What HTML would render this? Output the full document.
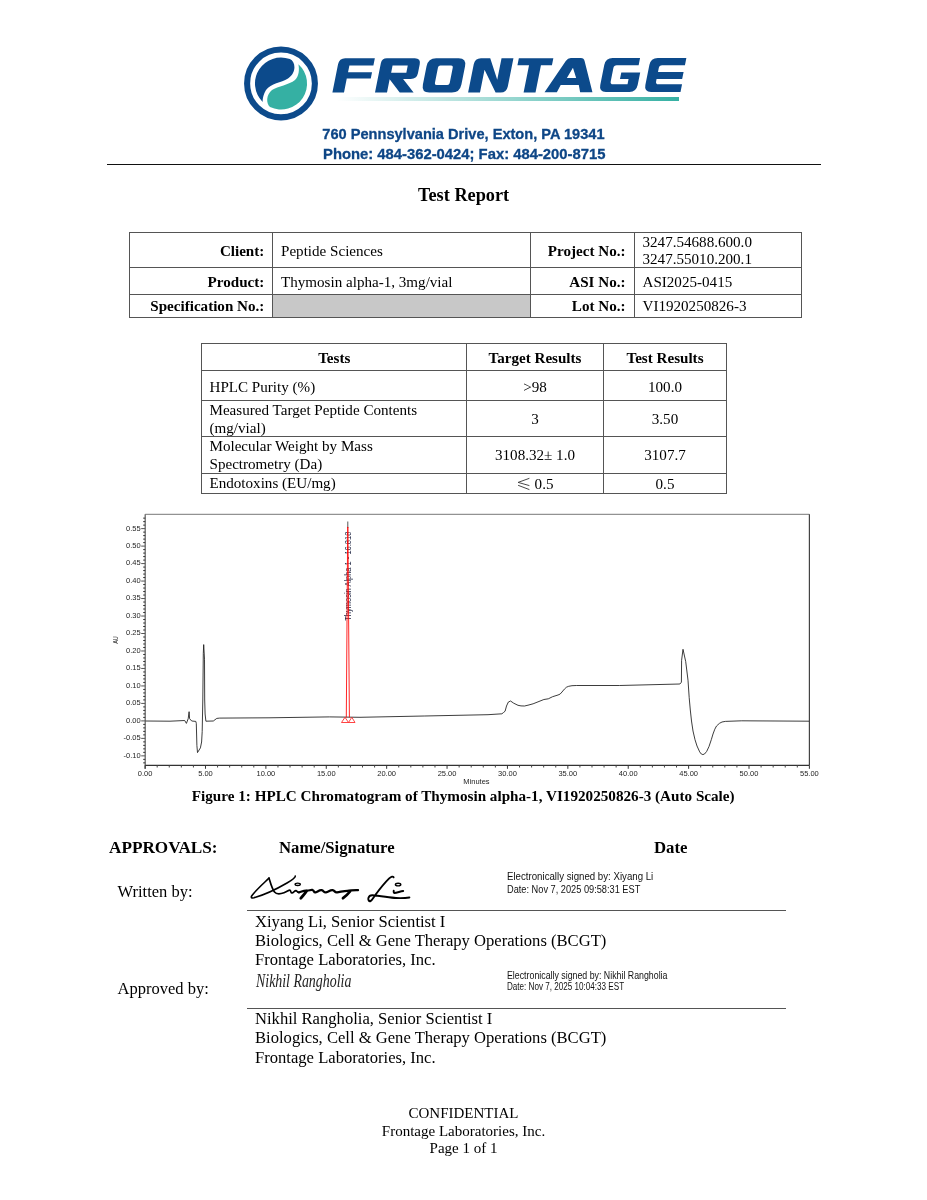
<!DOCTYPE html>
<html><head><meta charset="utf-8"><style>
html,body{margin:0;padding:0;background:#fff;}
#page{position:relative;width:927px;height:1200px;overflow:hidden;background:#fff;will-change:transform;}
.t{position:absolute;white-space:nowrap;}
.abs{position:absolute;}
svg text{font-family:"Liberation Sans", sans-serif;}
</style></head><body><div id="page">

<svg class="abs" style="left:0;top:0" width="927" height="170" viewBox="0 0 927 170">
  <defs>
    <linearGradient id="ul" x1="0" x2="1" y1="0" y2="0">
      <stop offset="0" stop-color="#35b0a3" stop-opacity="0"/>
      <stop offset="0.35" stop-color="#35b0a3" stop-opacity="0.35"/>
      <stop offset="1" stop-color="#35b0a3" stop-opacity="1"/>
    </linearGradient>
  </defs>
  <circle cx="281" cy="83.45" r="33.9" fill="none" stroke="#0c4a8b" stroke-width="6.1"/>
  <path fill="#0c4a8b" d="M262.6,101.9 A26,26 0 0 1 289.9,59.1 C296,62 296.5,73 288,78.5 C281,83 271,83 266,90 C263.5,94 262.5,99 262.6,101.9 Z"/>
  <path fill="#35b0a3" d="M298.4,64.2 A26,26 0 0 1 270,107.1 C266,103 266,95 272,90 C278,86 289,85 295,80 C299,76 299.5,70 298.4,64.2 Z"/>
  <rect x="336" y="97" width="343" height="4" fill="url(#ul)"/>
  <g fill="#0c4a8b"><path transform="matrix(1 0 -0.2 1 339.24 58.2)" d="M6,0 H35.6 V7.2 H11.6 V14 H35.6 V20.4 H11.6 V34.2 H0 V6 Q0,0 6,0 Z"/><path transform="matrix(1 0 -0.2 1 381.84 58.2)" d="M5,0 H33 Q39.1,0 39.1,6 V15 Q39.1,20.7 33,20.7 H25.4 L38.6,34.2 H24.7 L12,21 V34.2 H0 V5 Q0,0 5,0 Z M12.2,7.4 V14.5 H27.4 V7.4 Z"/><path transform="matrix(1 0 -0.2 1 428.14 58.2)" d="M8,0 H30.5 Q38.5,0 38.5,8 V26.2 Q38.5,34.2 30.5,34.2 H8 Q0,34.2 0,26.2 V8 Q0,0 8,0 Z M13.7,7.3 Q11.7,7.3 11.7,9.3 V24.7 Q11.7,26.7 13.7,26.7 H24.5 Q26.5,26.7 26.5,24.7 V9.3 Q26.5,7.3 24.5,7.3 Z"/><path transform="matrix(1 0 -0.2 1 474.94 58.2)" d="M0,34.2 V6 Q0,0 6,0 H15.3 L26.6,21.5 V0 H38.5 V28.2 Q38.5,34.2 32.5,34.2 H27.5 L11.9,11.5 V34.2 Z"/><path transform="matrix(1 0 -0.2 1 518.84 58.2)" d="M0,0 H34.5 V7 H23.5 V34.2 H11.6 V7 H0 Z"/><path transform="matrix(1 0 -0.2 1 551.38 58.0)" d="M0,34.2 L15,3 Q16.4,0 19.5,0 H29.5 Q32.6,0 33.8,3 L47.9,34.2 H35.6 L32.8,26.9 H14.7 L12.3,34.2 Z M19.5,20.1 H28.8 L23.5,9.7 Z"/><path transform="matrix(1 0 -0.2 1 605.66 58.1)" d="M7,0 H34.4 V7.1 H12.5 Q9.7,7.1 9.7,9.9 V23.3 Q9.7,26.1 12.5,26.1 H27.1 V21 H18.5 V14.3 H37.4 V27 Q37.4,33.8 30.6,33.8 H7 Q0,33.8 0,27 V7 Q0,0 7,0 Z"/><path transform="matrix(1 0 -0.2 1 650.76 58.1)" d="M7,0 H35.6 V7.1 H12.8 Q10,7.1 10,9.9 V13.8 H35.6 V21 H10 V23.3 Q10,26.1 12.8,26.1 H36.5 V33.8 H7 Q0,33.8 0,27 V7 Q0,0 7,0 Z"/></g>
</svg>
<div class="t" style="left:322.30px;top:127px;font-size:14.6px;line-height:14.6px;font-family:'Liberation Sans', sans-serif;font-weight:bold;color:#0e4686;-webkit-text-stroke:0.3px #0e4686;">760 Pennsylvania Drive, Exton, PA 19341</div>
<div class="t" style="left:323.00px;top:147px;font-size:14.82px;line-height:14.82px;font-family:'Liberation Sans', sans-serif;font-weight:bold;color:#0e4686;-webkit-text-stroke:0.3px #0e4686;">Phone: 484-362-0424; Fax: 484-200-8715</div>
<div class="abs" style="left:107px;top:164px;width:714px;height:1px;background:#111"></div>
<div class="t" style="left:-36.40px;width:1000px;text-align:center;top:186px;font-size:18.3px;line-height:18.3px;font-family:'Liberation Serif', serif;font-weight:bold;color:#000;">Test Report</div>
<div class="abs" style="left:273px;top:295px;width:257px;height:22px;background:#c8c8c8"></div>
<div class="abs" style="left:129px;top:232px;width:673px;height:1px;background:#555"></div>
<div class="abs" style="left:129px;top:267px;width:673px;height:1px;background:#555"></div>
<div class="abs" style="left:129px;top:294px;width:673px;height:1px;background:#555"></div>
<div class="abs" style="left:129px;top:317px;width:673px;height:1px;background:#555"></div>
<div class="abs" style="left:129px;top:232px;width:1px;height:86px;background:#555"></div>
<div class="abs" style="left:272px;top:232px;width:1px;height:86px;background:#555"></div>
<div class="abs" style="left:530px;top:232px;width:1px;height:86px;background:#555"></div>
<div class="abs" style="left:634px;top:232px;width:1px;height:86px;background:#555"></div>
<div class="abs" style="left:801px;top:232px;width:1px;height:86px;background:#555"></div>
<div class="t" style="left:-735.70px;width:1000px;text-align:right;top:244px;font-size:15.1px;line-height:15.1px;font-family:'Liberation Serif', serif;font-weight:bold;color:#000;">Client:</div>
<div class="t" style="left:-735.70px;width:1000px;text-align:right;top:275px;font-size:15.1px;line-height:15.1px;font-family:'Liberation Serif', serif;font-weight:bold;color:#000;">Product:</div>
<div class="t" style="left:-735.70px;width:1000px;text-align:right;top:299px;font-size:15.1px;line-height:15.1px;font-family:'Liberation Serif', serif;font-weight:bold;color:#000;">Specification No.:</div>
<div class="t" style="left:281.00px;top:244px;font-size:15.1px;line-height:15.1px;font-family:'Liberation Serif', serif;font-weight:normal;color:#000;">Peptide Sciences</div>
<div class="t" style="left:281.00px;top:275px;font-size:15.1px;line-height:15.1px;font-family:'Liberation Serif', serif;font-weight:normal;color:#000;">Thymosin alpha-1, 3mg/vial</div>
<div class="t" style="left:-374.50px;width:1000px;text-align:right;top:244px;font-size:15.1px;line-height:15.1px;font-family:'Liberation Serif', serif;font-weight:bold;color:#000;">Project No.:</div>
<div class="t" style="left:-374.50px;width:1000px;text-align:right;top:275px;font-size:15.1px;line-height:15.1px;font-family:'Liberation Serif', serif;font-weight:bold;color:#000;">ASI No.:</div>
<div class="t" style="left:-374.50px;width:1000px;text-align:right;top:299px;font-size:15.1px;line-height:15.1px;font-family:'Liberation Serif', serif;font-weight:bold;color:#000;">Lot No.:</div>
<div class="t" style="left:642.50px;top:235px;font-size:15.1px;line-height:15.1px;font-family:'Liberation Serif', serif;font-weight:normal;color:#000;">3247.54688.600.0</div>
<div class="t" style="left:642.50px;top:252px;font-size:15.1px;line-height:15.1px;font-family:'Liberation Serif', serif;font-weight:normal;color:#000;">3247.55010.200.1</div>
<div class="t" style="left:642.50px;top:275px;font-size:15.1px;line-height:15.1px;font-family:'Liberation Serif', serif;font-weight:normal;color:#000;">ASI2025-0415</div>
<div class="t" style="left:642.50px;top:299px;font-size:15.1px;line-height:15.1px;font-family:'Liberation Serif', serif;font-weight:normal;color:#000;">VI1920250826-3</div>
<div class="abs" style="left:201px;top:343px;width:526px;height:1px;background:#555"></div>
<div class="abs" style="left:201px;top:370px;width:526px;height:1px;background:#555"></div>
<div class="abs" style="left:201px;top:400px;width:526px;height:1px;background:#555"></div>
<div class="abs" style="left:201px;top:436px;width:526px;height:1px;background:#555"></div>
<div class="abs" style="left:201px;top:473px;width:526px;height:1px;background:#555"></div>
<div class="abs" style="left:201px;top:493px;width:526px;height:1px;background:#555"></div>
<div class="abs" style="left:201px;top:343px;width:1px;height:151px;background:#555"></div>
<div class="abs" style="left:466px;top:343px;width:1px;height:151px;background:#555"></div>
<div class="abs" style="left:603px;top:343px;width:1px;height:151px;background:#555"></div>
<div class="abs" style="left:726px;top:343px;width:1px;height:151px;background:#555"></div>
<div class="t" style="left:-165.80px;width:1000px;text-align:center;top:351px;font-size:15.1px;line-height:15.1px;font-family:'Liberation Serif', serif;font-weight:bold;color:#000;">Tests</div>
<div class="t" style="left:35.00px;width:1000px;text-align:center;top:351px;font-size:15.1px;line-height:15.1px;font-family:'Liberation Serif', serif;font-weight:bold;color:#000;">Target Results</div>
<div class="t" style="left:165.00px;width:1000px;text-align:center;top:351px;font-size:15.1px;line-height:15.1px;font-family:'Liberation Serif', serif;font-weight:bold;color:#000;">Test Results</div>
<div class="t" style="left:209.50px;top:380px;font-size:15.1px;line-height:15.1px;font-family:'Liberation Serif', serif;font-weight:normal;color:#000;">HPLC Purity (%)</div>
<div class="t" style="left:35.00px;width:1000px;text-align:center;top:380px;font-size:15.1px;line-height:15.1px;font-family:'Liberation Serif', serif;font-weight:normal;color:#000;">&gt;98</div>
<div class="t" style="left:165.00px;width:1000px;text-align:center;top:380px;font-size:15.1px;line-height:15.1px;font-family:'Liberation Serif', serif;font-weight:normal;color:#000;">100.0</div>
<div class="t" style="left:209.50px;top:403px;font-size:15.1px;line-height:15.1px;font-family:'Liberation Serif', serif;font-weight:normal;color:#000;">Measured Target Peptide Contents</div>
<div class="t" style="left:209.50px;top:421px;font-size:15.1px;line-height:15.1px;font-family:'Liberation Serif', serif;font-weight:normal;color:#000;">(mg/vial)</div>
<div class="t" style="left:35.00px;width:1000px;text-align:center;top:412px;font-size:15.1px;line-height:15.1px;font-family:'Liberation Serif', serif;font-weight:normal;color:#000;">3</div>
<div class="t" style="left:165.00px;width:1000px;text-align:center;top:412px;font-size:15.1px;line-height:15.1px;font-family:'Liberation Serif', serif;font-weight:normal;color:#000;">3.50</div>
<div class="t" style="left:209.50px;top:439px;font-size:15.1px;line-height:15.1px;font-family:'Liberation Serif', serif;font-weight:normal;color:#000;">Molecular Weight by Mass</div>
<div class="t" style="left:209.50px;top:457px;font-size:15.1px;line-height:15.1px;font-family:'Liberation Serif', serif;font-weight:normal;color:#000;">Spectrometry (Da)</div>
<div class="t" style="left:35.00px;width:1000px;text-align:center;top:448px;font-size:15.1px;line-height:15.1px;font-family:'Liberation Serif', serif;font-weight:normal;color:#000;">3108.32± 1.0</div>
<div class="t" style="left:165.00px;width:1000px;text-align:center;top:448px;font-size:15.1px;line-height:15.1px;font-family:'Liberation Serif', serif;font-weight:normal;color:#000;">3107.7</div>
<div class="t" style="left:209.50px;top:476px;font-size:15.1px;line-height:15.1px;font-family:'Liberation Serif', serif;font-weight:normal;color:#000;">Endotoxins (EU/mg)</div>
<div class="t" style="left:534.60px;top:477px;font-size:15.1px;line-height:15.1px;font-family:'Liberation Serif', serif;font-weight:normal;color:#000;">0.5</div>
<svg class="abs" style="left:0;top:0" width="927" height="500" viewBox="0 0 927 500"><path d="M529.4,478.3 L518.1,482.4 L529.4,485.6 M518.1,485.3 L529.4,489.6" fill="none" stroke="#333" stroke-width="0.9"/></svg>
<div class="t" style="left:165.00px;width:1000px;text-align:center;top:477px;font-size:15.1px;line-height:15.1px;font-family:'Liberation Serif', serif;font-weight:normal;color:#000;">0.5</div>
<svg class="abs" style="left:0;top:0" width="927" height="800" viewBox="0 0 927 800">
<line x1="145.2" y1="514.3" x2="809.4" y2="514.3" stroke="#777" stroke-width="1"/>
<line x1="809.4" y1="514.3" x2="809.4" y2="765.3" stroke="#444" stroke-width="1.2"/>
<line x1="145.2" y1="514.3" x2="145.2" y2="768.8" stroke="#666" stroke-width="1.3"/>
<line x1="145.2" y1="765.3" x2="809.4" y2="765.3" stroke="#333" stroke-width="1.3"/>
<line x1="143.2" y1="762.85" x2="145.2" y2="762.85" stroke="#333" stroke-width="1"/>
<line x1="143.2" y1="759.36" x2="145.2" y2="759.36" stroke="#333" stroke-width="1"/>
<line x1="141.2" y1="755.86" x2="145.2" y2="755.86" stroke="#555" stroke-width="1"/>
<text x="140.7" y="757.76" text-anchor="end" font-size="7.5" fill="#1e1e1e">-0.10</text>
<line x1="143.2" y1="752.36" x2="145.2" y2="752.36" stroke="#333" stroke-width="1"/>
<line x1="143.2" y1="748.87" x2="145.2" y2="748.87" stroke="#333" stroke-width="1"/>
<line x1="143.2" y1="745.37" x2="145.2" y2="745.37" stroke="#333" stroke-width="1"/>
<line x1="143.2" y1="741.88" x2="145.2" y2="741.88" stroke="#333" stroke-width="1"/>
<line x1="141.2" y1="738.38" x2="145.2" y2="738.38" stroke="#555" stroke-width="1"/>
<text x="140.7" y="740.28" text-anchor="end" font-size="7.5" fill="#1e1e1e">-0.05</text>
<line x1="143.2" y1="734.88" x2="145.2" y2="734.88" stroke="#333" stroke-width="1"/>
<line x1="143.2" y1="731.39" x2="145.2" y2="731.39" stroke="#333" stroke-width="1"/>
<line x1="143.2" y1="727.89" x2="145.2" y2="727.89" stroke="#333" stroke-width="1"/>
<line x1="143.2" y1="724.40" x2="145.2" y2="724.40" stroke="#333" stroke-width="1"/>
<line x1="141.2" y1="720.90" x2="145.2" y2="720.90" stroke="#555" stroke-width="1"/>
<text x="140.7" y="722.80" text-anchor="end" font-size="7.5" fill="#1e1e1e">0.00</text>
<line x1="143.2" y1="717.40" x2="145.2" y2="717.40" stroke="#333" stroke-width="1"/>
<line x1="143.2" y1="713.91" x2="145.2" y2="713.91" stroke="#333" stroke-width="1"/>
<line x1="143.2" y1="710.41" x2="145.2" y2="710.41" stroke="#333" stroke-width="1"/>
<line x1="143.2" y1="706.92" x2="145.2" y2="706.92" stroke="#333" stroke-width="1"/>
<line x1="141.2" y1="703.42" x2="145.2" y2="703.42" stroke="#555" stroke-width="1"/>
<text x="140.7" y="705.32" text-anchor="end" font-size="7.5" fill="#1e1e1e">0.05</text>
<line x1="143.2" y1="699.92" x2="145.2" y2="699.92" stroke="#333" stroke-width="1"/>
<line x1="143.2" y1="696.43" x2="145.2" y2="696.43" stroke="#333" stroke-width="1"/>
<line x1="143.2" y1="692.93" x2="145.2" y2="692.93" stroke="#333" stroke-width="1"/>
<line x1="143.2" y1="689.44" x2="145.2" y2="689.44" stroke="#333" stroke-width="1"/>
<line x1="141.2" y1="685.94" x2="145.2" y2="685.94" stroke="#555" stroke-width="1"/>
<text x="140.7" y="687.84" text-anchor="end" font-size="7.5" fill="#1e1e1e">0.10</text>
<line x1="143.2" y1="682.44" x2="145.2" y2="682.44" stroke="#333" stroke-width="1"/>
<line x1="143.2" y1="678.95" x2="145.2" y2="678.95" stroke="#333" stroke-width="1"/>
<line x1="143.2" y1="675.45" x2="145.2" y2="675.45" stroke="#333" stroke-width="1"/>
<line x1="143.2" y1="671.96" x2="145.2" y2="671.96" stroke="#333" stroke-width="1"/>
<line x1="141.2" y1="668.46" x2="145.2" y2="668.46" stroke="#555" stroke-width="1"/>
<text x="140.7" y="670.36" text-anchor="end" font-size="7.5" fill="#1e1e1e">0.15</text>
<line x1="143.2" y1="664.96" x2="145.2" y2="664.96" stroke="#333" stroke-width="1"/>
<line x1="143.2" y1="661.47" x2="145.2" y2="661.47" stroke="#333" stroke-width="1"/>
<line x1="143.2" y1="657.97" x2="145.2" y2="657.97" stroke="#333" stroke-width="1"/>
<line x1="143.2" y1="654.48" x2="145.2" y2="654.48" stroke="#333" stroke-width="1"/>
<line x1="141.2" y1="650.98" x2="145.2" y2="650.98" stroke="#555" stroke-width="1"/>
<text x="140.7" y="652.88" text-anchor="end" font-size="7.5" fill="#1e1e1e">0.20</text>
<line x1="143.2" y1="647.48" x2="145.2" y2="647.48" stroke="#333" stroke-width="1"/>
<line x1="143.2" y1="643.99" x2="145.2" y2="643.99" stroke="#333" stroke-width="1"/>
<line x1="143.2" y1="640.49" x2="145.2" y2="640.49" stroke="#333" stroke-width="1"/>
<line x1="143.2" y1="637.00" x2="145.2" y2="637.00" stroke="#333" stroke-width="1"/>
<line x1="141.2" y1="633.50" x2="145.2" y2="633.50" stroke="#555" stroke-width="1"/>
<text x="140.7" y="635.40" text-anchor="end" font-size="7.5" fill="#1e1e1e">0.25</text>
<line x1="143.2" y1="630.00" x2="145.2" y2="630.00" stroke="#333" stroke-width="1"/>
<line x1="143.2" y1="626.51" x2="145.2" y2="626.51" stroke="#333" stroke-width="1"/>
<line x1="143.2" y1="623.01" x2="145.2" y2="623.01" stroke="#333" stroke-width="1"/>
<line x1="143.2" y1="619.52" x2="145.2" y2="619.52" stroke="#333" stroke-width="1"/>
<line x1="141.2" y1="616.02" x2="145.2" y2="616.02" stroke="#555" stroke-width="1"/>
<text x="140.7" y="617.92" text-anchor="end" font-size="7.5" fill="#1e1e1e">0.30</text>
<line x1="143.2" y1="612.52" x2="145.2" y2="612.52" stroke="#333" stroke-width="1"/>
<line x1="143.2" y1="609.03" x2="145.2" y2="609.03" stroke="#333" stroke-width="1"/>
<line x1="143.2" y1="605.53" x2="145.2" y2="605.53" stroke="#333" stroke-width="1"/>
<line x1="143.2" y1="602.04" x2="145.2" y2="602.04" stroke="#333" stroke-width="1"/>
<line x1="141.2" y1="598.54" x2="145.2" y2="598.54" stroke="#555" stroke-width="1"/>
<text x="140.7" y="600.44" text-anchor="end" font-size="7.5" fill="#1e1e1e">0.35</text>
<line x1="143.2" y1="595.04" x2="145.2" y2="595.04" stroke="#333" stroke-width="1"/>
<line x1="143.2" y1="591.55" x2="145.2" y2="591.55" stroke="#333" stroke-width="1"/>
<line x1="143.2" y1="588.05" x2="145.2" y2="588.05" stroke="#333" stroke-width="1"/>
<line x1="143.2" y1="584.56" x2="145.2" y2="584.56" stroke="#333" stroke-width="1"/>
<line x1="141.2" y1="581.06" x2="145.2" y2="581.06" stroke="#555" stroke-width="1"/>
<text x="140.7" y="582.96" text-anchor="end" font-size="7.5" fill="#1e1e1e">0.40</text>
<line x1="143.2" y1="577.56" x2="145.2" y2="577.56" stroke="#333" stroke-width="1"/>
<line x1="143.2" y1="574.07" x2="145.2" y2="574.07" stroke="#333" stroke-width="1"/>
<line x1="143.2" y1="570.57" x2="145.2" y2="570.57" stroke="#333" stroke-width="1"/>
<line x1="143.2" y1="567.08" x2="145.2" y2="567.08" stroke="#333" stroke-width="1"/>
<line x1="141.2" y1="563.58" x2="145.2" y2="563.58" stroke="#555" stroke-width="1"/>
<text x="140.7" y="565.48" text-anchor="end" font-size="7.5" fill="#1e1e1e">0.45</text>
<line x1="143.2" y1="560.08" x2="145.2" y2="560.08" stroke="#333" stroke-width="1"/>
<line x1="143.2" y1="556.59" x2="145.2" y2="556.59" stroke="#333" stroke-width="1"/>
<line x1="143.2" y1="553.09" x2="145.2" y2="553.09" stroke="#333" stroke-width="1"/>
<line x1="143.2" y1="549.60" x2="145.2" y2="549.60" stroke="#333" stroke-width="1"/>
<line x1="141.2" y1="546.10" x2="145.2" y2="546.10" stroke="#555" stroke-width="1"/>
<text x="140.7" y="548.00" text-anchor="end" font-size="7.5" fill="#1e1e1e">0.50</text>
<line x1="143.2" y1="542.60" x2="145.2" y2="542.60" stroke="#333" stroke-width="1"/>
<line x1="143.2" y1="539.11" x2="145.2" y2="539.11" stroke="#333" stroke-width="1"/>
<line x1="143.2" y1="535.61" x2="145.2" y2="535.61" stroke="#333" stroke-width="1"/>
<line x1="143.2" y1="532.12" x2="145.2" y2="532.12" stroke="#333" stroke-width="1"/>
<line x1="141.2" y1="528.62" x2="145.2" y2="528.62" stroke="#555" stroke-width="1"/>
<text x="140.7" y="530.52" text-anchor="end" font-size="7.5" fill="#1e1e1e">0.55</text>
<line x1="143.2" y1="525.12" x2="145.2" y2="525.12" stroke="#333" stroke-width="1"/>
<line x1="143.2" y1="521.63" x2="145.2" y2="521.63" stroke="#333" stroke-width="1"/>
<line x1="143.2" y1="518.13" x2="145.2" y2="518.13" stroke="#333" stroke-width="1"/>
<line x1="145.10" y1="765.3" x2="145.10" y2="768.8" stroke="#333" stroke-width="1"/>
<text x="145.10" y="775.8" text-anchor="middle" font-size="7.5" fill="#1e1e1e">0.00</text>
<line x1="157.18" y1="765.3" x2="157.18" y2="767.5" stroke="#444" stroke-width="1"/>
<line x1="169.26" y1="765.3" x2="169.26" y2="767.5" stroke="#444" stroke-width="1"/>
<line x1="181.33" y1="765.3" x2="181.33" y2="767.5" stroke="#444" stroke-width="1"/>
<line x1="193.41" y1="765.3" x2="193.41" y2="767.5" stroke="#444" stroke-width="1"/>
<line x1="205.49" y1="765.3" x2="205.49" y2="768.8" stroke="#333" stroke-width="1"/>
<text x="205.49" y="775.8" text-anchor="middle" font-size="7.5" fill="#1e1e1e">5.00</text>
<line x1="217.57" y1="765.3" x2="217.57" y2="767.5" stroke="#444" stroke-width="1"/>
<line x1="229.65" y1="765.3" x2="229.65" y2="767.5" stroke="#444" stroke-width="1"/>
<line x1="241.72" y1="765.3" x2="241.72" y2="767.5" stroke="#444" stroke-width="1"/>
<line x1="253.80" y1="765.3" x2="253.80" y2="767.5" stroke="#444" stroke-width="1"/>
<line x1="265.88" y1="765.3" x2="265.88" y2="768.8" stroke="#333" stroke-width="1"/>
<text x="265.88" y="775.8" text-anchor="middle" font-size="7.5" fill="#1e1e1e">10.00</text>
<line x1="277.96" y1="765.3" x2="277.96" y2="767.5" stroke="#444" stroke-width="1"/>
<line x1="290.04" y1="765.3" x2="290.04" y2="767.5" stroke="#444" stroke-width="1"/>
<line x1="302.11" y1="765.3" x2="302.11" y2="767.5" stroke="#444" stroke-width="1"/>
<line x1="314.19" y1="765.3" x2="314.19" y2="767.5" stroke="#444" stroke-width="1"/>
<line x1="326.27" y1="765.3" x2="326.27" y2="768.8" stroke="#333" stroke-width="1"/>
<text x="326.27" y="775.8" text-anchor="middle" font-size="7.5" fill="#1e1e1e">15.00</text>
<line x1="338.35" y1="765.3" x2="338.35" y2="767.5" stroke="#444" stroke-width="1"/>
<line x1="350.43" y1="765.3" x2="350.43" y2="767.5" stroke="#444" stroke-width="1"/>
<line x1="362.50" y1="765.3" x2="362.50" y2="767.5" stroke="#444" stroke-width="1"/>
<line x1="374.58" y1="765.3" x2="374.58" y2="767.5" stroke="#444" stroke-width="1"/>
<line x1="386.66" y1="765.3" x2="386.66" y2="768.8" stroke="#333" stroke-width="1"/>
<text x="386.66" y="775.8" text-anchor="middle" font-size="7.5" fill="#1e1e1e">20.00</text>
<line x1="398.74" y1="765.3" x2="398.74" y2="767.5" stroke="#444" stroke-width="1"/>
<line x1="410.82" y1="765.3" x2="410.82" y2="767.5" stroke="#444" stroke-width="1"/>
<line x1="422.89" y1="765.3" x2="422.89" y2="767.5" stroke="#444" stroke-width="1"/>
<line x1="434.97" y1="765.3" x2="434.97" y2="767.5" stroke="#444" stroke-width="1"/>
<line x1="447.05" y1="765.3" x2="447.05" y2="768.8" stroke="#333" stroke-width="1"/>
<text x="447.05" y="775.8" text-anchor="middle" font-size="7.5" fill="#1e1e1e">25.00</text>
<line x1="459.13" y1="765.3" x2="459.13" y2="767.5" stroke="#444" stroke-width="1"/>
<line x1="471.21" y1="765.3" x2="471.21" y2="767.5" stroke="#444" stroke-width="1"/>
<line x1="483.28" y1="765.3" x2="483.28" y2="767.5" stroke="#444" stroke-width="1"/>
<line x1="495.36" y1="765.3" x2="495.36" y2="767.5" stroke="#444" stroke-width="1"/>
<line x1="507.44" y1="765.3" x2="507.44" y2="768.8" stroke="#333" stroke-width="1"/>
<text x="507.44" y="775.8" text-anchor="middle" font-size="7.5" fill="#1e1e1e">30.00</text>
<line x1="519.52" y1="765.3" x2="519.52" y2="767.5" stroke="#444" stroke-width="1"/>
<line x1="531.60" y1="765.3" x2="531.60" y2="767.5" stroke="#444" stroke-width="1"/>
<line x1="543.67" y1="765.3" x2="543.67" y2="767.5" stroke="#444" stroke-width="1"/>
<line x1="555.75" y1="765.3" x2="555.75" y2="767.5" stroke="#444" stroke-width="1"/>
<line x1="567.83" y1="765.3" x2="567.83" y2="768.8" stroke="#333" stroke-width="1"/>
<text x="567.83" y="775.8" text-anchor="middle" font-size="7.5" fill="#1e1e1e">35.00</text>
<line x1="579.91" y1="765.3" x2="579.91" y2="767.5" stroke="#444" stroke-width="1"/>
<line x1="591.99" y1="765.3" x2="591.99" y2="767.5" stroke="#444" stroke-width="1"/>
<line x1="604.06" y1="765.3" x2="604.06" y2="767.5" stroke="#444" stroke-width="1"/>
<line x1="616.14" y1="765.3" x2="616.14" y2="767.5" stroke="#444" stroke-width="1"/>
<line x1="628.22" y1="765.3" x2="628.22" y2="768.8" stroke="#333" stroke-width="1"/>
<text x="628.22" y="775.8" text-anchor="middle" font-size="7.5" fill="#1e1e1e">40.00</text>
<line x1="640.30" y1="765.3" x2="640.30" y2="767.5" stroke="#444" stroke-width="1"/>
<line x1="652.38" y1="765.3" x2="652.38" y2="767.5" stroke="#444" stroke-width="1"/>
<line x1="664.45" y1="765.3" x2="664.45" y2="767.5" stroke="#444" stroke-width="1"/>
<line x1="676.53" y1="765.3" x2="676.53" y2="767.5" stroke="#444" stroke-width="1"/>
<line x1="688.61" y1="765.3" x2="688.61" y2="768.8" stroke="#333" stroke-width="1"/>
<text x="688.61" y="775.8" text-anchor="middle" font-size="7.5" fill="#1e1e1e">45.00</text>
<line x1="700.69" y1="765.3" x2="700.69" y2="767.5" stroke="#444" stroke-width="1"/>
<line x1="712.77" y1="765.3" x2="712.77" y2="767.5" stroke="#444" stroke-width="1"/>
<line x1="724.84" y1="765.3" x2="724.84" y2="767.5" stroke="#444" stroke-width="1"/>
<line x1="736.92" y1="765.3" x2="736.92" y2="767.5" stroke="#444" stroke-width="1"/>
<line x1="749.00" y1="765.3" x2="749.00" y2="768.8" stroke="#333" stroke-width="1"/>
<text x="749.00" y="775.8" text-anchor="middle" font-size="7.5" fill="#1e1e1e">50.00</text>
<line x1="761.08" y1="765.3" x2="761.08" y2="767.5" stroke="#444" stroke-width="1"/>
<line x1="773.16" y1="765.3" x2="773.16" y2="767.5" stroke="#444" stroke-width="1"/>
<line x1="785.23" y1="765.3" x2="785.23" y2="767.5" stroke="#444" stroke-width="1"/>
<line x1="797.31" y1="765.3" x2="797.31" y2="767.5" stroke="#444" stroke-width="1"/>
<line x1="809.39" y1="765.3" x2="809.39" y2="768.8" stroke="#333" stroke-width="1"/>
<text x="809.39" y="775.8" text-anchor="middle" font-size="7.5" fill="#1e1e1e">55.00</text>
<text x="476.5" y="783.8" text-anchor="middle" font-size="7.5" fill="#1e1e1e">Minutes</text>
<text transform="translate(118.3,640) rotate(-90)" text-anchor="middle" font-size="7.6" textLength="7.7" lengthAdjust="spacingAndGlyphs" fill="#1e1e1e">AU</text>
<path d="M145.5,721.0 L170.0,721.2 L184.7,720.5 L186.4,723.4 L188.2,718.7 L189.1,711.7 L189.6,718.7 L191.7,721.0 L195.8,721.4 L196.3,723.4 L196.9,745.6 L197.5,752.6 L200.4,747.9 L201.6,742.0 L202.2,731.6 L202.8,700.0 L203.3,653.3 L203.7,644.6 L204.5,659.2 L204.7,700.0 L205.1,714.0 L205.9,721.2 L213.3,721.0 L216.8,718.4 L219.7,718.1 L269.0,717.8 L329.4,716.9 L360.0,717.3 L424.2,716.0 L488.0,714.7 L501.9,713.8 L503.5,712.5 L505.1,711.2 L506.5,706.0 L508.3,702.1 L510.5,701.0 L512.0,702.0 L513.7,703.2 L518.0,705.3 L521.0,705.9 L524.5,706.0 L528.0,705.2 L533.1,703.8 L543.9,699.5 L548.3,698.8 L552.6,696.7 L558.0,695.0 L560.1,694.1 L562.0,692.0 L564.4,689.1 L566.5,687.2 L568.7,686.3 L572.0,685.7 L576.3,685.5 L619.4,685.5 L679.9,684.0 L681.4,682.2 L681.6,660.3 L683.0,649.3 L685.7,661.5 L688.0,680.2 L689.2,697.7 L690.3,710.0 L691.5,721.0 L693.0,731.0 L695.0,739.7 L697.0,746.0 L699.7,751.9 L701.3,754.0 L702.9,754.6 L704.5,754.0 L706.7,751.4 L709.0,746.5 L711.3,739.7 L713.0,734.0 L714.8,729.2 L716.5,726.0 L719.5,723.3 L722.0,722.0 L725.3,721.4 L741.7,720.8 L809.0,721.2" fill="none" stroke="#1a1a1a" stroke-width="0.85"/>
<text transform="translate(350.9,576.2) rotate(-90)" text-anchor="middle" font-size="9.6" textLength="89" lengthAdjust="spacingAndGlyphs" fill="#1c2340">Thymosin Alpha 1 - 16.818</text>
<line x1="347.8" y1="521.5" x2="347.8" y2="528" stroke="#444" stroke-width="0.9"/>
<path d="M346.3,717.4 L347.7,527 L347.9,527 L349.4,717.4" fill="none" stroke="#f00" stroke-width="0.85"/>
<path d="M341.5,722.5 L345,717.3 L348.5,722.5 Z M348.5,722.5 L351.8,717.3 L355,722.5 Z" fill="none" stroke="#f22" stroke-width="0.85"/>
</svg>
<div class="t" style="left:-36.80px;width:1000px;text-align:center;top:788px;font-size:15.17px;line-height:15.17px;font-family:'Liberation Serif', serif;font-weight:bold;color:#000;">Figure 1: HPLC Chromatogram of Thymosin alpha-1, VI1920250826-3 (Auto Scale)</div>
<div class="t" style="left:109.00px;top:839px;font-size:17.2px;line-height:17.2px;font-family:'Liberation Serif', serif;font-weight:bold;color:#000;">APPROVALS:</div>
<div class="t" style="left:279.00px;top:840px;font-size:16.7px;line-height:16.7px;font-family:'Liberation Serif', serif;font-weight:bold;color:#000;">Name/Signature</div>
<div class="t" style="left:654.00px;top:840px;font-size:16.8px;line-height:16.8px;font-family:'Liberation Serif', serif;font-weight:bold;color:#000;">Date</div>
<div class="t" style="left:117.60px;top:884px;font-size:16.5px;line-height:16.5px;font-family:'Liberation Serif', serif;font-weight:normal;color:#000;">Written by:</div>
<div class="t" style="left:117.60px;top:981px;font-size:16.5px;line-height:16.5px;font-family:'Liberation Serif', serif;font-weight:normal;color:#000;">Approved by:</div>
<div class="abs" style="left:247px;top:910px;width:539px;height:1px;background:#555"></div>
<div class="abs" style="left:247px;top:1008px;width:539px;height:1px;background:#555"></div>
<div class="t" style="left:255.00px;top:914px;font-size:16.6px;line-height:16.6px;font-family:'Liberation Serif', serif;font-weight:normal;color:#000;">Xiyang Li, Senior Scientist I</div>
<div class="t" style="left:255.00px;top:933px;font-size:16.6px;line-height:16.6px;font-family:'Liberation Serif', serif;font-weight:normal;color:#000;">Biologics, Cell &amp; Gene Therapy Operations (BCGT)</div>
<div class="t" style="left:255.00px;top:952px;font-size:16.6px;line-height:16.6px;font-family:'Liberation Serif', serif;font-weight:normal;color:#000;">Frontage Laboratories, Inc.</div>
<div class="t" style="left:255.00px;top:1011px;font-size:16.6px;line-height:16.6px;font-family:'Liberation Serif', serif;font-weight:normal;color:#000;">Nikhil Rangholia, Senior Scientist I</div>
<div class="t" style="left:255.00px;top:1030px;font-size:16.6px;line-height:16.6px;font-family:'Liberation Serif', serif;font-weight:normal;color:#000;">Biologics, Cell &amp; Gene Therapy Operations (BCGT)</div>
<div class="t" style="left:255.00px;top:1050px;font-size:16.6px;line-height:16.6px;font-family:'Liberation Serif', serif;font-weight:normal;color:#000;">Frontage Laboratories, Inc.</div>
<div class="t" style="left:506.50px;top:871px;font-size:10.7px;line-height:10.7px;font-family:'Liberation Sans', sans-serif;font-weight:normal;color:#111;transform:scale(0.905,1);transform-origin:0 9px;">Electronically signed by: Xiyang Li</div>
<div class="t" style="left:506.50px;top:884px;font-size:10.7px;line-height:10.7px;font-family:'Liberation Sans', sans-serif;font-weight:normal;color:#111;transform:scale(0.863,1);transform-origin:0 9px;">Date: Nov 7, 2025 09:58:31 EST</div>
<div class="t" style="left:507.20px;top:971px;font-size:10.0px;line-height:10.0px;font-family:'Liberation Sans', sans-serif;font-weight:normal;color:#111;transform:scale(0.88,1);transform-origin:0 8px;">Electronically signed by: Nikhil Rangholia</div>
<div class="t" style="left:507.20px;top:982px;font-size:10.0px;line-height:10.0px;font-family:'Liberation Sans', sans-serif;font-weight:normal;color:#111;transform:scale(0.81,1);transform-origin:0 8px;">Date: Nov 7, 2025 10:04:33 EST</div>
<div class="t" style="left:255.80px;top:972px;font-size:18.3px;line-height:18.3px;font-family:'Liberation Serif', serif;font-weight:normal;color:#222;font-style:italic;transform:scale(0.76,1);transform-origin:0 15px;">Nikhil Rangholia</div>
<svg class="abs" style="left:0;top:0" width="927" height="1000" viewBox="0 0 927 1000">
<g fill="none" stroke="#000" stroke-linecap="round" stroke-linejoin="round">
<path stroke-width="1.6" d="M269,878.1 C264,883 256,890 252,895.5 C250.5,897.5 251.5,898.3 254,897.8 C262,895.5 275,890 287,883 C292,880 295.5,877.5 295.3,876.1"/>
<path stroke-width="1.7" d="M269,878.1 C270.5,883 272,889 274.5,892 C276.5,894.5 280,894.2 284,892.8 C287,891.8 289,889.8 290,890.2 C291,891 290.8,893.2 292,893 C293.5,892.6 294.5,890.6 296,890.6 C297.5,890.8 297,892.6 299,892.3"/>
<path stroke-width="2.3" d="M299,892.3 C301.5,891.8 304,890.2 306.5,890.6 C309,890.9 310.5,889.6 312.5,890 C314.5,890.6 313.5,892.6 315.5,892.3 C318,891.8 319,889.8 321.6,890.2 C324,890.8 323.5,892.6 326,892.4 C328.5,892 330,889.9 332.5,890.2 C335,890.6 334.5,892.6 337,892.3 C340,892 344,890.8 347.3,890.8 C350.5,890.8 354,889.8 358,890.2"/>
<path stroke-width="2.8" d="M306.5,891.2 C304.5,893.8 302.5,896.5 300.8,898.2"/>
<path stroke-width="2.8" d="M350,891.5 C348,894 345,896.8 343,898.2"/>
<ellipse cx="297.7" cy="884.3" rx="2.6" ry="1.2" stroke-width="1.4"/>
<path stroke-width="1.9" d="M393.6,877.3 C393,876.2 391.5,876.3 389.2,878.4 C386,881.5 379,890 375.1,895.2 C373.5,897.5 372,900.5 370.2,901.3 C368.8,901.5 368,899.5 368.4,898 C369,896 370,895.2 372.5,895.3 C380,895.6 390,897.8 396,898 C401,898.2 406,898 409.4,897.5"/>
<path stroke-width="1.9" d="M393.7,890.8 C393.6,892 393.8,893 394.2,893 C397,892.5 400.5,891.5 403.2,891"/>
<ellipse cx="398.1" cy="884.6" rx="2.7" ry="1.3" stroke-width="1.4"/>
</g></svg>
<div class="t" style="left:-36.50px;width:1000px;text-align:center;top:1106px;font-size:15.0px;line-height:15.0px;font-family:'Liberation Serif', serif;font-weight:normal;color:#000;">CONFIDENTIAL</div>
<div class="t" style="left:-36.50px;width:1000px;text-align:center;top:1124px;font-size:15.0px;line-height:15.0px;font-family:'Liberation Serif', serif;font-weight:normal;color:#000;">Frontage Laboratories, Inc.</div>
<div class="t" style="left:-36.50px;width:1000px;text-align:center;top:1141px;font-size:15.0px;line-height:15.0px;font-family:'Liberation Serif', serif;font-weight:normal;color:#000;">Page 1 of 1</div>
</div></body></html>
